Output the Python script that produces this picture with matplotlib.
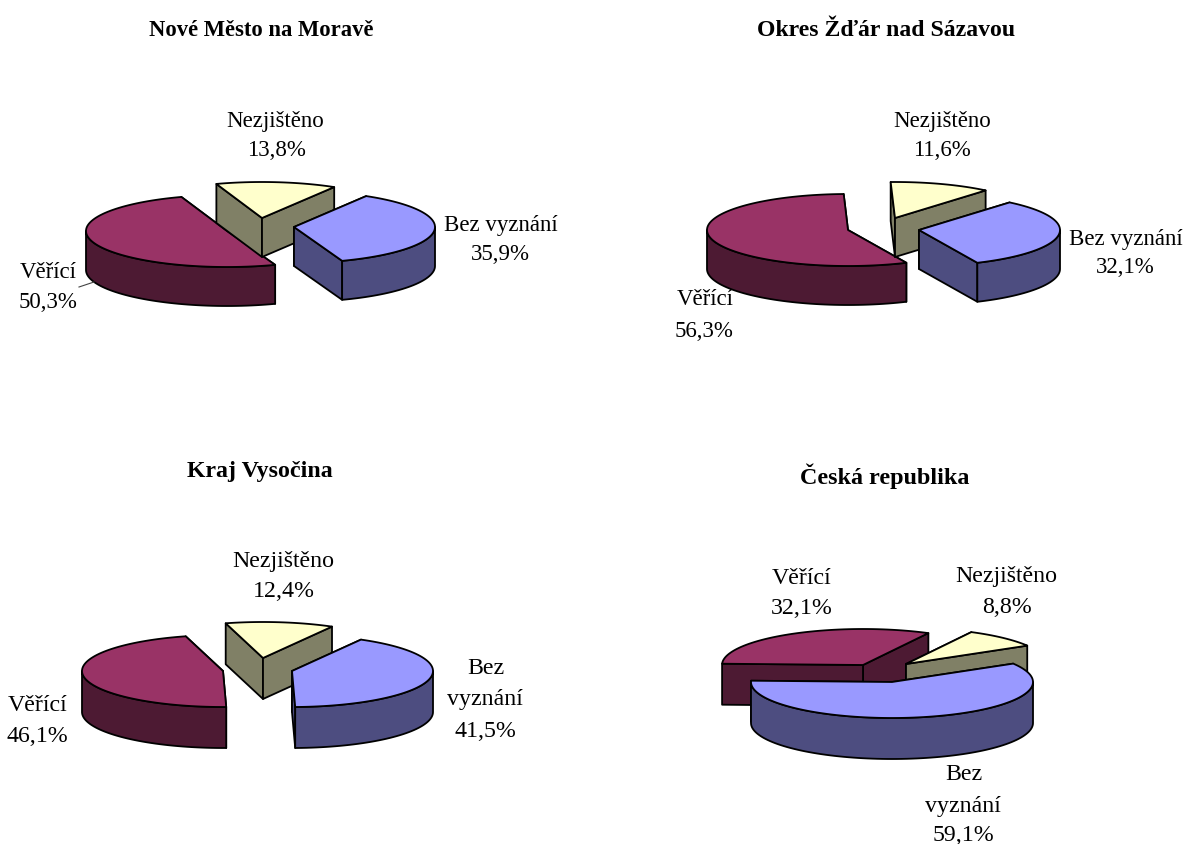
import numpy as np
import matplotlib
matplotlib.use('Agg')
import matplotlib.pyplot as plt
from matplotlib.patches import Polygon

# data
titles = ['Nové Město na Moravě', 'Okres Žďár nad Sázavou', 'Kraj Vysočina', 'Česká republika']
categories = ['Bez vyznání', 'Věřící', 'Nezjištěno']
values_nm = [35.9, 50.3, 13.8]
values_zr = [32.1, 56.3, 11.6]
values_kv = [41.5, 46.1, 12.4]
values_cr = [59.1, 32.1, 8.8]

top_colors = ['#9999FF', '#993366', '#FFFFCC']
side_colors = ['#4D4D80', '#4D1A33', '#808066']

# layout in pixels of the 1184x845 picture
RX, RY = 141, 36
pies = [
    dict(values=values_nm, start=30.8, apex=[(294, 228), (227, 232), (262, 219)], depth=39,
         title_xy=(261, 30), title_size=16.3, size=16.5,
         labels=[[(501, 226), (500, 254)], [(48, 273), (48, 303)], [(275, 122), (276, 151)]]),
    dict(values=values_zr, start=40, apex=[(919, 231), (848, 231), (895, 219)], depth=39,
         title_xy=(886, 30), title_size=17.1, size=16.5,
         labels=[[(1126, 239), (1125, 268)], [(705, 300), (704, 332)], [(942, 122), (942, 151)]]),
    dict(values=values_kv, start=29.3, apex=[(292, 672), (223, 672), (263, 659)], depth=41,
         title_xy=(260, 472), title_size=17.2, size=17.2,
         labels=[[(486, 669), (485, 700), (485, 732)], [(38, 706), (37, 737)], [(283, 562), (284, 592)]]),
    dict(values=values_cr, start=59.3, apex=[(892, 683), (863, 666), (906, 665)], depth=41,
         title_xy=(885, 476), title_size=17.4, size=17.2,
         labels=[[(964, 775), (963, 807), (963, 836)], [(802, 579), (802, 609)], [(1006, 577), (1007, 608)]]),
]


def rim(apex, theta):
    # theta in degrees, clockwise from 12 o'clock
    t = np.radians(theta)
    return apex[0] + RX * np.sin(t), apex[1] - RY * np.cos(t)


def add_poly(ax, xs, ys, color):
    ax.add_patch(Polygon(np.column_stack((xs, ys)), closed=True, facecolor=color,
                         edgecolor='black', linewidth=1.3, joinstyle='round'))


def draw_slice(ax, apex, t0, t1, depth, top, side):
    thetas = np.arange(t0, t1, 2.0)
    thetas = np.append(thetas, t1)
    xs, ys = rim(apex, thetas)

    # cut faces, the one further back first
    ends = sorted([t0, t1], key=lambda t: rim(apex, t)[1])
    for t in ends:
        ex, ey = rim(apex, t)
        add_poly(ax, [apex[0], ex, ex, apex[0]],
                 [apex[1], ey, ey + depth, apex[1] + depth], side)

    # outer wall, only the front half of the rim shows
    for lo in (90, 450):
        a = max(t0, lo)
        b = min(t1, lo + 180)
        if b > a:
            wall = np.append(np.arange(a, b, 2.0), b)
            wx, wy = rim(apex, wall)
            add_poly(ax, np.concatenate((wx, wx[::-1])),
                     np.concatenate((wy, wy[::-1] + depth)), side)

    add_poly(ax, np.concatenate(([apex[0]], xs)), np.concatenate(([apex[1]], ys)), top)


plt.rcParams['font.family'] = ['Liberation Serif', 'DejaVu Serif']

fig = plt.figure(figsize=(11.84, 8.45), dpi=100)
ax = fig.add_axes([0, 0, 1, 1])
ax.set_xlim(0, 1184)
ax.set_ylim(845, 0)
ax.axis('off')

for n, pie in enumerate(pies):
    vals = np.array(pie['values'])
    sweep = vals / vals.sum() * 360
    starts = pie['start'] + np.concatenate(([0], np.cumsum(sweep)[:-1]))
    # yellow over maroon only matters on the last pie, blue always goes on top
    for i in (1, 2, 0):
        draw_slice(ax, pie['apex'][i], starts[i], starts[i] + sweep[i], pie['depth'],
                   top_colors[i], side_colors[i])

    ax.text(pie['title_xy'][0], pie['title_xy'][1], titles[n], fontsize=pie['title_size'],
            fontweight='bold', ha='center', va='center')

    for i, cat in enumerate(categories):
        pos = pie['labels'][i]
        lines = cat.split(' ') if len(pos) == 3 else [cat]
        lines = lines + [f'{vals[i]:.1f}%'.replace('.', ',')]
        for line, (x, y) in zip(lines, pos):
            ax.text(x, y, line, fontsize=pie['size'], ha='center', va='center')

# leader line of Věřící in the first pie
ax.plot([79, 94], [288, 283], color='#444444', linewidth=0.8)

fig.savefig('out.png', dpi=100)
